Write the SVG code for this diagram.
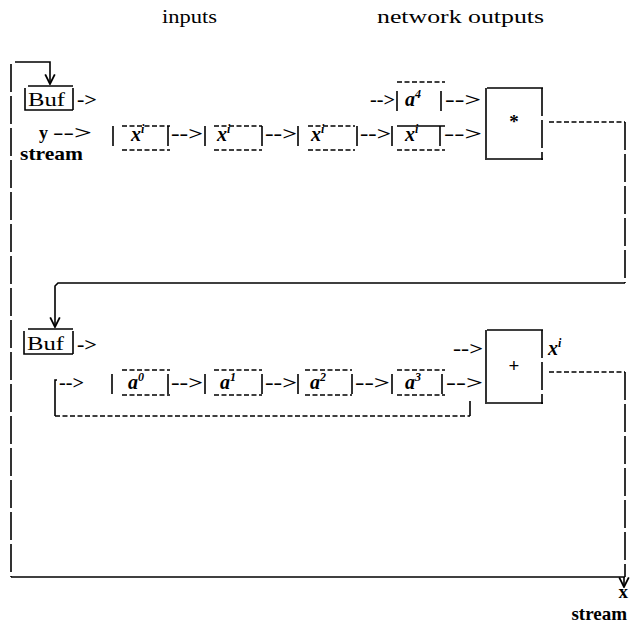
<svg xmlns="http://www.w3.org/2000/svg" width="632" height="625" viewBox="0 0 632 625">
<defs>
<marker id="ah" markerWidth="12" markerHeight="12" refX="9" refY="5" orient="auto" markerUnits="userSpaceOnUse" viewBox="0 0 10 10">
<path d="M1,1 L9,5 L1,9" fill="none" stroke="#000" stroke-width="1.5"/>
</marker>
</defs>
<style>
.t{font-family:"Liberation Serif","DejaVu Serif",serif;font-size:19px;fill:#000}
.b{font-weight:bold}
.m{font-family:"Liberation Serif","DejaVu Serif",serif;font-style:italic;font-weight:bold;font-size:20px;fill:#000}
.s{font-size:12px}
.ar{font-family:"Liberation Serif","DejaVu Serif",serif;font-weight:bold;font-size:18px;fill:#000}
.d{stroke:#000;stroke-width:1.5;stroke-dasharray:5 2.5;fill:none}
.ln{stroke:#000;stroke-width:1.6;fill:none}
.ld{stroke:#000;stroke-width:1.6;stroke-dasharray:28 4;fill:none}
.sd{stroke:#000;stroke-width:1.5;stroke-dasharray:5 2.5;fill:none}
</style>
<rect width="632" height="625" fill="#fff"/>

<g id="titles">
<text class="t" x="162" y="23" textLength="55" lengthAdjust="spacingAndGlyphs">inputs</text>
<text class="t" x="377" y="23" textLength="167" lengthAdjust="spacingAndGlyphs">network outputs</text>
</g>

<g id="connectors">
<!-- outer loop left -->
<path class="ln" d="M15,62 H50 V84" marker-end="url(#ah)"/>
<path class="ld" d="M11,64 V577"/>
<path class="ln" d="M11,577 H625"/>
<!-- from * box down to second Buf -->
<path class="sd" d="M549,122 H625"/>
<path class="ld" d="M625,122 V283"/>
<path class="ln" d="M625,283 H58 L55,286 V327" marker-end="url(#ah)"/>
<!-- from + box to output -->
<path class="sd" d="M549,372 H625"/>
<path class="ld" d="M625,372 V577"/>
<path class="ln" d="M624,577 V587" marker-end="url(#ah)"/>
<!-- feedback loop -->
<path class="ln" d="M57,380 H55 V416"/>
<path class="sd" d="M55,416 H470"/>
<path class="ln" d="M470,401 V416"/>
<!-- row A arrows -->
<text class="ar" x="77" y="106" textLength="20" lengthAdjust="spacingAndGlyphs">-&gt;</text>
<text class="ar" x="370" y="106" textLength="25" lengthAdjust="spacingAndGlyphs">--&gt;</text>
<path class="ln" d="M397,91 V111"/>
<path class="ln" d="M441,91 V111"/>
<text class="ar" x="445" y="106" textLength="36" lengthAdjust="spacingAndGlyphs">--&gt;</text>
<!-- row B arrows -->
<text class="ar" x="39" y="139">y</text>
<text class="ar" x="53" y="139" textLength="39" lengthAdjust="spacingAndGlyphs">--&gt;</text>
<path class="ln" d="M113,126 V146"/>
<path class="ln" d="M168,126 V146"/>
<text class="ar" x="171" y="140" textLength="32" lengthAdjust="spacingAndGlyphs">--&gt;</text>
<path class="ln" d="M205,126 V146"/>
<path class="ln" d="M262,126 V146"/>
<text class="ar" x="265" y="140" textLength="32" lengthAdjust="spacingAndGlyphs">--&gt;</text>
<path class="ln" d="M298,126 V146"/>
<path class="ln" d="M357,126 V146"/>
<text class="ar" x="360" y="140" textLength="31" lengthAdjust="spacingAndGlyphs">--&gt;</text>
<path class="ln" d="M392,126 V146"/>
<path class="ln" d="M440,126 V146"/>
<text class="ar" x="444" y="140" textLength="38" lengthAdjust="spacingAndGlyphs">--&gt;</text>
<!-- row above C -->
<text class="ar" x="77" y="351" textLength="20" lengthAdjust="spacingAndGlyphs">-&gt;</text>
<text class="ar" x="453" y="355" textLength="30" lengthAdjust="spacingAndGlyphs">--&gt;</text>
<!-- row C arrows -->
<text class="ar" x="59" y="389" textLength="25" lengthAdjust="spacingAndGlyphs">--&gt;</text>
<path class="ln" d="M112,374 V394"/>
<path class="ln" d="M168,374 V394"/>
<text class="ar" x="171" y="389" textLength="32" lengthAdjust="spacingAndGlyphs">--&gt;</text>
<path class="ln" d="M205,374 V394"/>
<path class="ln" d="M262,374 V394"/>
<text class="ar" x="265" y="389" textLength="32" lengthAdjust="spacingAndGlyphs">--&gt;</text>
<path class="ln" d="M298,374 V394"/>
<path class="ln" d="M352,374 V394"/>
<text class="ar" x="355" y="389" textLength="35" lengthAdjust="spacingAndGlyphs">--&gt;</text>
<path class="ln" d="M392,374 V394"/>
<path class="ln" d="M442,374 V394"/>
<text class="ar" x="446" y="389" textLength="37" lengthAdjust="spacingAndGlyphs">--&gt;</text>
</g>

<g id="buf1">
<path class="ln" d="M28,86 H73"/>
<path class="ln" d="M25,88 V110 H73 M73,88 V110"/>
<text class="t" x="28" y="106" textLength="37" lengthAdjust="spacingAndGlyphs">Buf</text>
</g>

<g id="ystream">
<text class="t b" x="20" y="160" font-size="16" textLength="63" lengthAdjust="spacingAndGlyphs">stream</text>
</g>

<g id="cell-x1">
<path class="d" d="M122,126 H170 M122,150 H170"/>
<text class="m" x="131" y="141">x<tspan class="s" dy="-8">i</tspan></text>
</g>
<g id="cell-x2">
<path class="d" d="M214,126 H262 M214,150 H262"/>
<text class="m" x="217" y="141">x<tspan class="s" dy="-8">i</tspan></text>
</g>
<g id="cell-x3">
<path class="d" d="M308,126 H355 M308,150 H355"/>
<text class="m" x="311" y="141">x<tspan class="s" dy="-8">i</tspan></text>
</g>
<g id="cell-x4">
<path class="d" d="M397,150 H445"/>
<text class="m" x="405" y="141">x<tspan class="s" dy="-8">i</tspan></text>
</g>
<g id="cell-a4">
<path class="d" d="M397,82 H445"/>
<path class="ln" d="M397,126 H445"/>
<text class="m" x="405" y="106">a<tspan class="s" dy="-8">4</tspan></text>
</g>

<g id="mult">
<path class="ln" d="M487,88 H543 M486,88 V160 M487,159 H543"/>
<path class="ld" d="M542,88 V160"/>
<text class="t b" x="514" y="128" text-anchor="middle" font-size="18">*</text>
</g>

<g id="buf2">
<path class="ln" d="M28,329 H73"/>
<path class="ln" d="M24,331 V354 H73 M73,331 V354"/>
<text class="t" x="27" y="350" textLength="37" lengthAdjust="spacingAndGlyphs">Buf</text>
</g>

<g id="cell-a0">
<path class="d" d="M122,370 H170 M122,395 H170"/>
<text class="m" x="128" y="389">a<tspan class="s" dy="-8">0</tspan></text>
</g>
<g id="cell-a1">
<path class="d" d="M214,370 H262 M214,395 H262"/>
<text class="m" x="220" y="389">a<tspan class="s" dy="-8">1</tspan></text>
</g>
<g id="cell-a2">
<path class="d" d="M305,370 H352 M305,395 H352"/>
<text class="m" x="310" y="389">a<tspan class="s" dy="-8">2</tspan></text>
</g>
<g id="cell-a3">
<path class="d" d="M397,370 H445 M397,395 H445"/>
<text class="m" x="405" y="389">a<tspan class="s" dy="-8">3</tspan></text>
</g>

<g id="add">
<path class="ln" d="M487,330 H543 M486,330 V404 M487,403 H543"/>
<path class="ld" d="M542,330 V404"/>
<text class="t b" x="514" y="372" text-anchor="middle" font-size="20">+</text>
<text class="m" x="548" y="355">x<tspan class="s" dy="-8">i</tspan></text>
</g>

<g id="xstream">
<text class="t b" x="628" y="598" font-size="13" text-anchor="end">x</text>
<text class="t b" x="627" y="620" font-size="13" text-anchor="end">stream</text>
</g>
</svg>
